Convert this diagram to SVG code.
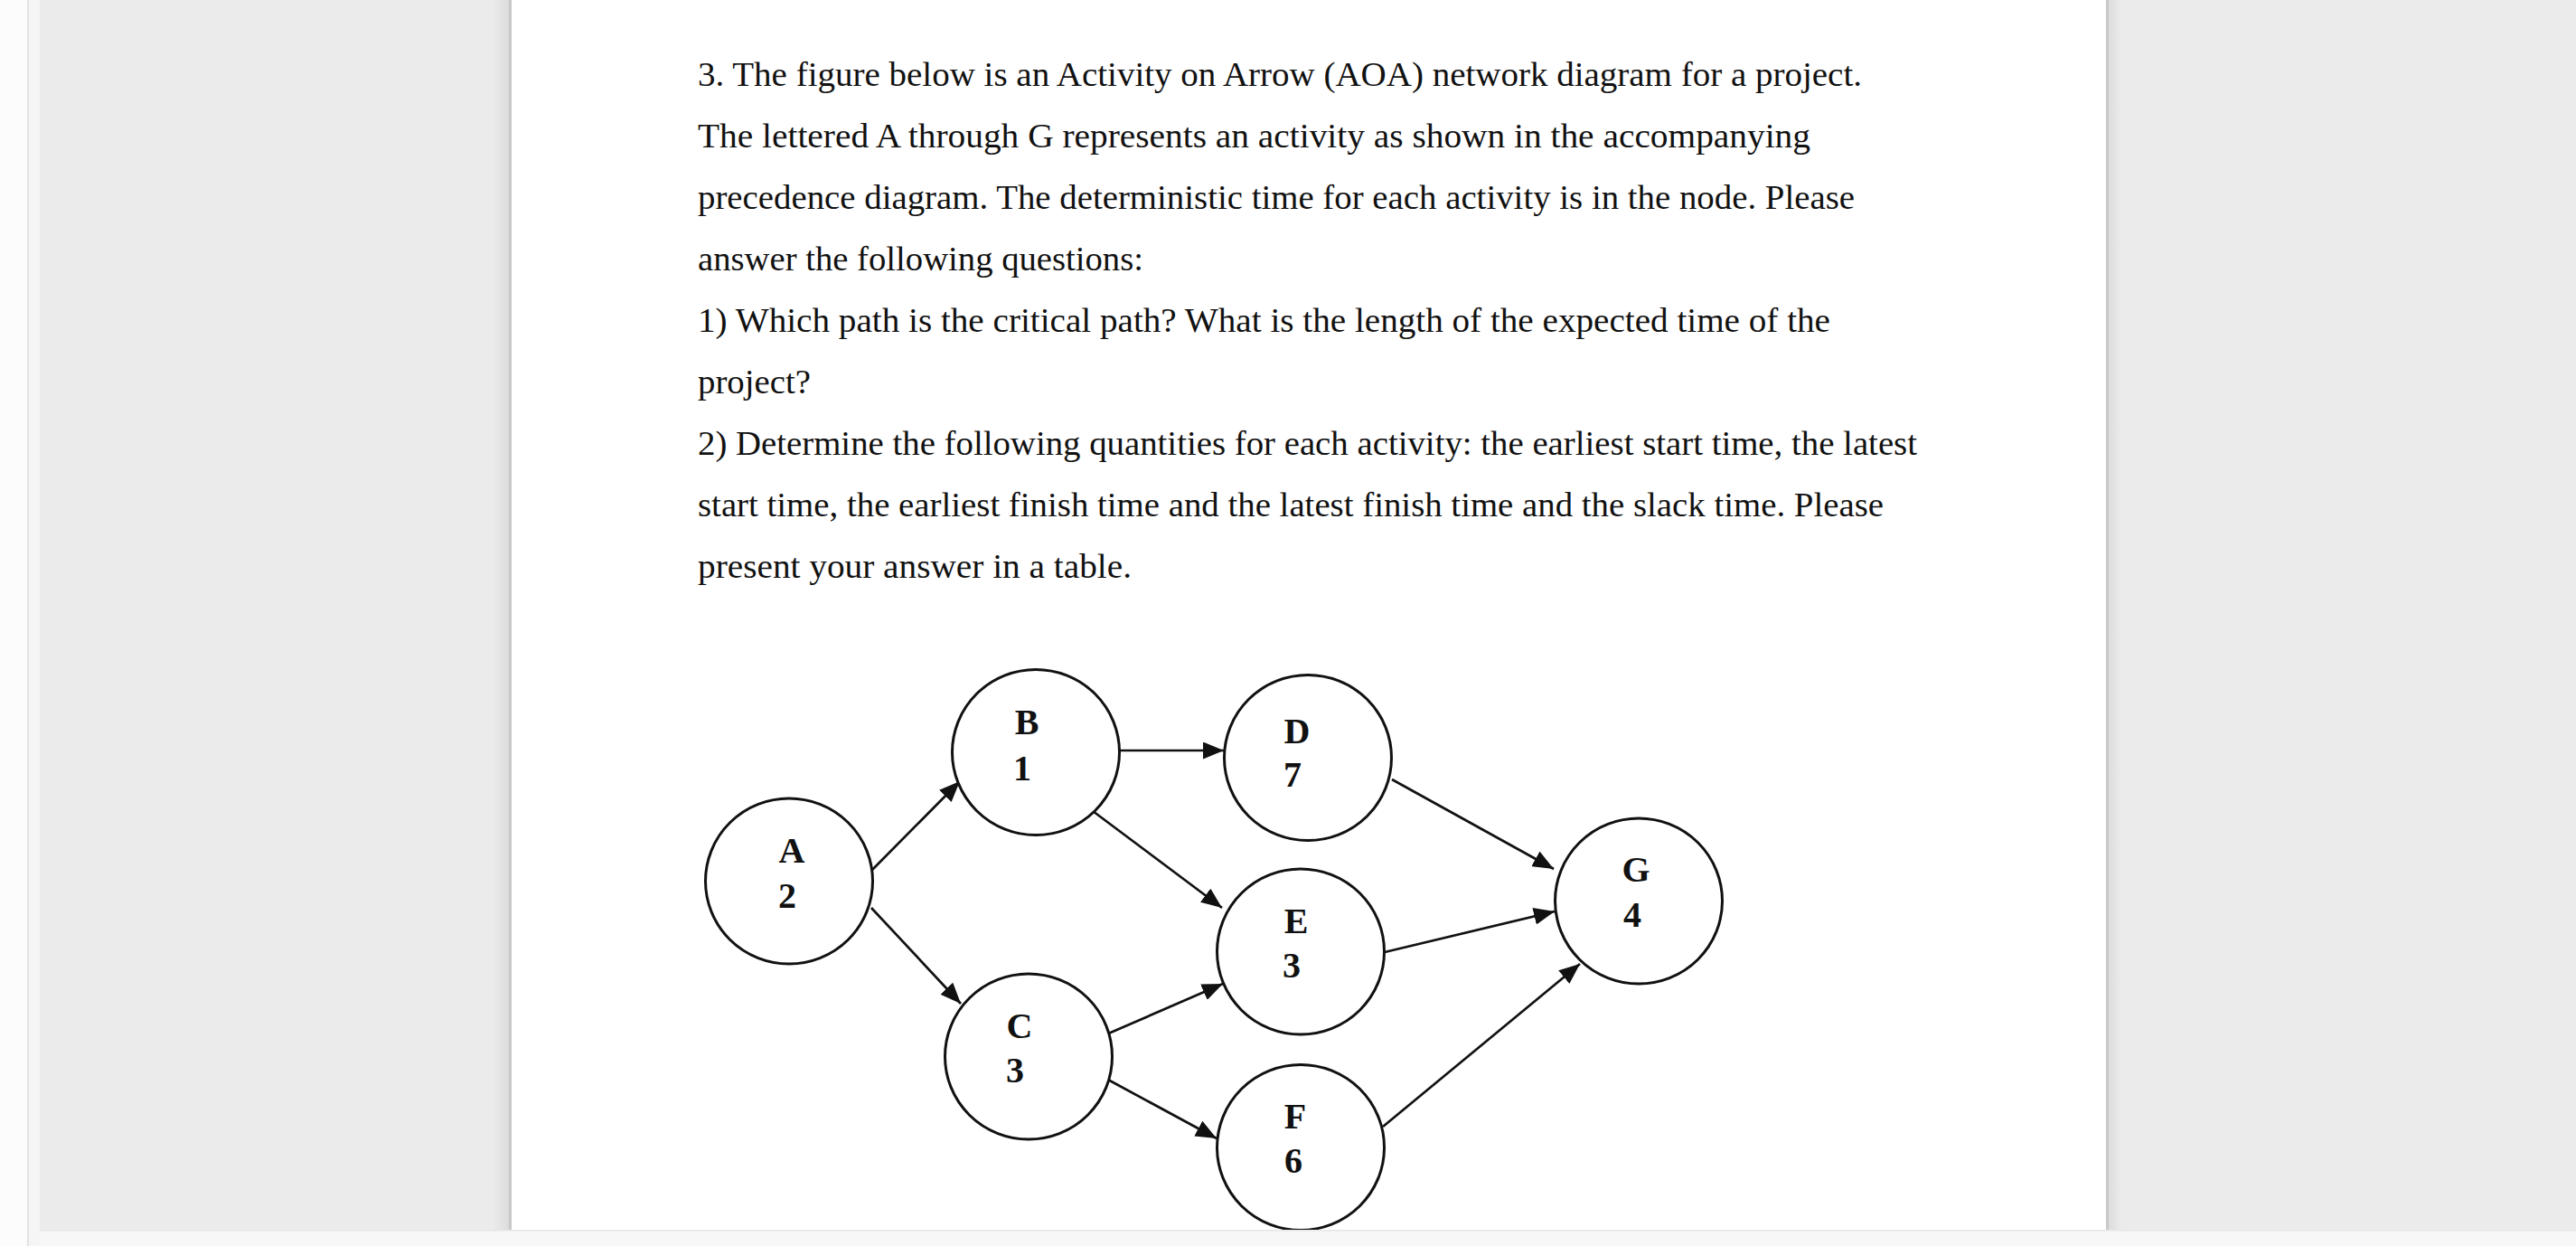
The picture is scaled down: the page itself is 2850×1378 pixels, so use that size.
<svg xmlns="http://www.w3.org/2000/svg" width="2850" height="1378" viewBox="0 0 2850 1378">
<style>
.body{font-family:"Liberation Serif","Times New Roman",serif;font-size:38px;fill:#111}
.node ellipse{fill:#fff;stroke:#111;stroke-width:3}
.node text{font-family:"Liberation Serif","Times New Roman",serif;font-weight:bold;font-size:40px;fill:#111;text-anchor:middle}
.conn line{stroke:#111;stroke-width:2.7;marker-end:url(#ah)}
</style>
<defs>
<marker id="ah" markerUnits="userSpaceOnUse" markerWidth="23" markerHeight="19" refX="23" refY="9.5" orient="auto">
<path d="M0,0 L23,9.5 L0,19 z" fill="#111"/>
</marker>
<linearGradient id="shL" x1="0" x2="1" y1="0" y2="0">
<stop offset="0" stop-color="#ebebeb"/><stop offset="1" stop-color="#dcdcdc"/>
</linearGradient>
<linearGradient id="shR" x1="0" x2="1" y1="0" y2="0">
<stop offset="0" stop-color="#dcdcdc"/><stop offset="1" stop-color="#ebebeb"/>
</linearGradient>
</defs>
<g id="background">
<rect x="0" y="0" width="2850" height="1378" fill="#ebebeb"/>
<rect x="0" y="0" width="30" height="1378" fill="#fcfcfc"/>
<rect x="30" y="0" width="2" height="1378" fill="#e2e2e2"/>
<rect x="32" y="0" width="12" height="1378" fill="#f5f5f5"/>
<rect x="545" y="0" width="18" height="1378" fill="url(#shL)"/>
<rect x="563" y="0" width="3" height="1378" fill="#c8c8c8"/>
<rect x="566" y="0" width="1764" height="1378" fill="#ffffff"/>
<rect x="2330" y="0" width="3" height="1378" fill="#c8c8c8"/>
<rect x="2333" y="0" width="14" height="1378" fill="url(#shR)"/>
</g>
<g id="question">
<text class="body" x="772" y="95" textLength="1288" lengthAdjust="spacingAndGlyphs">3. The figure below is an Activity on Arrow (AOA) network diagram for a project.</text>
<text class="body" x="772" y="163" textLength="1231" lengthAdjust="spacingAndGlyphs">The lettered A through G represents an activity as shown in the accompanying</text>
<text class="body" x="772" y="231" textLength="1280" lengthAdjust="spacingAndGlyphs">precedence diagram. The deterministic time for each activity is in the node. Please</text>
<text class="body" x="772" y="299" textLength="493" lengthAdjust="spacingAndGlyphs">answer the following questions:</text>
<text class="body" x="772" y="367" textLength="1253" lengthAdjust="spacingAndGlyphs">1) Which path is the critical path? What is the length of the expected time of the</text>
<text class="body" x="772" y="435" textLength="125" lengthAdjust="spacingAndGlyphs">project?</text>
<text class="body" x="772" y="503" textLength="1349" lengthAdjust="spacingAndGlyphs">2) Determine the following quantities for each activity: the earliest start time, the latest</text>
<text class="body" x="772" y="571" textLength="1312" lengthAdjust="spacingAndGlyphs">start time, the earliest finish time and the latest finish time and the slack time. Please</text>
<text class="body" x="772" y="639" textLength="480" lengthAdjust="spacingAndGlyphs">present your answer in a table.</text>
</g>
<g id="connectors" class="conn">
<line x1="965" y1="962" x2="1062" y2="864"/>
<line x1="964" y1="1004" x2="1063" y2="1110"/>
<line x1="1239" y1="830" x2="1354" y2="830"/>
<line x1="1209" y1="897" x2="1352" y2="1004"/>
<line x1="1224" y1="1144" x2="1353" y2="1088"/>
<line x1="1224" y1="1193" x2="1346" y2="1259"/>
<line x1="1540" y1="862" x2="1719" y2="961"/>
<line x1="1532" y1="1053" x2="1720" y2="1008"/>
<line x1="1530" y1="1246" x2="1748" y2="1066"/>
</g>
<g id="node-A" class="node"><ellipse cx="873" cy="974.5" rx="92.5" ry="91.5"/><text x="876" y="954">A</text><text x="871" y="1004">2</text></g>
<g id="node-B" class="node"><ellipse cx="1146" cy="832" rx="92.5" ry="91.5"/><text x="1136" y="812">B</text><text x="1131" y="863">1</text></g>
<g id="node-C" class="node"><ellipse cx="1138" cy="1168.5" rx="92.5" ry="91.5"/><text x="1128" y="1148">C</text><text x="1123" y="1197">3</text></g>
<g id="node-D" class="node"><ellipse cx="1447" cy="838" rx="92.5" ry="91.5"/><text x="1435" y="822">D</text><text x="1430" y="870">7</text></g>
<g id="node-E" class="node"><ellipse cx="1439" cy="1052.5" rx="92.5" ry="91.5"/><text x="1434" y="1032">E</text><text x="1429" y="1081">3</text></g>
<g id="node-F" class="node"><ellipse cx="1439" cy="1269" rx="92.5" ry="91.5"/><text x="1433" y="1248">F</text><text x="1431" y="1297">6</text></g>
<g id="node-G" class="node"><ellipse cx="1813" cy="996.5" rx="92.5" ry="91.5"/><text x="1810" y="975">G</text><text x="1806" y="1025">4</text></g>
<g id="bottom-bar">
<rect x="44" y="1360" width="2806" height="18" fill="#f7f7f7"/>
<rect x="44" y="1360" width="2806" height="1.5" fill="#e6e6e6"/>
</g>
</svg>
